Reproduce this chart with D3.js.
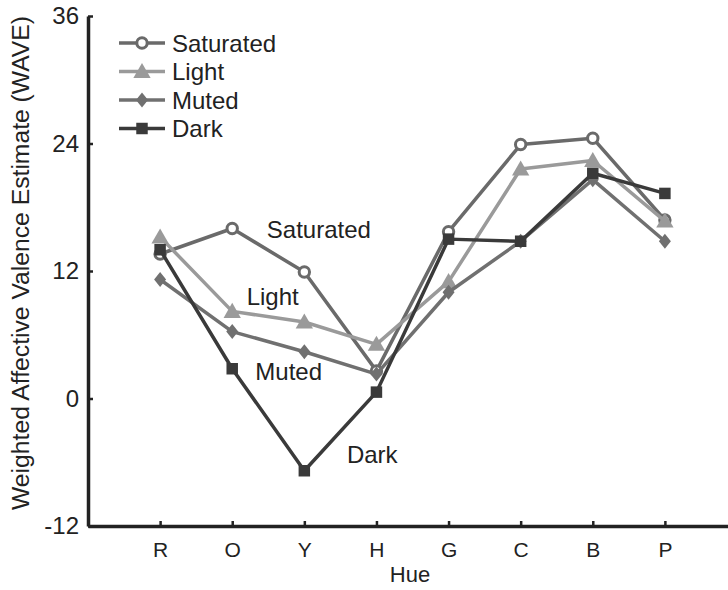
<!DOCTYPE html>
<html>
<head>
  <meta charset="utf-8">
  <script src="https://d3js.org/d3.v7.min.js"></script>
  <style>
    body { margin: 0; background: #fff; }
    text { font-family: "Liberation Sans", Arial, sans-serif; fill: #222; }
  </style>
</head>
<body>
<script>
  "use strict";
  // data
  var hues = ["R", "O", "Y", "H", "G", "C", "B", "P"];
  var saturated = [13.6, 16.0, 11.9, 2.6, 15.7, 23.9, 24.5, 16.8];
  var light     = [15.2, 8.2, 7.2, 5.1, 11.0, 21.6, 22.4, 16.7];
  var muted     = [11.2, 6.3, 4.4, 2.3, 10.0, 14.8, 20.6, 14.8];
  var dark      = [14.0, 2.8, -6.8, 0.6, 15.0, 14.8, 21.2, 19.3];
  var yTicks = [-12, 0, 12, 24, 36];

  var series = [
    { name: "Saturated", values: saturated, color: "#6a6a6a", symbol: "circle",
      label: [2.48, 15.1] },
    { name: "Light", values: light, color: "#9a9a9a", symbol: "triangle",
      label: [2.2, 8.8] },
    { name: "Muted", values: muted, color: "#707070", symbol: "diamond",
      label: [2.32, 1.74] },
    { name: "Dark", values: dark, color: "#3a3a3a", symbol: "square",
      label: [3.59, -6.07] }
  ];

  var W = 728, H = 590;
  var svg = d3.select("body").append("svg")
      .attr("width", W).attr("height", H);

  var x = d3.scaleLinear().domain([0, 9]).range([88, 737]);
  var y = d3.scaleLinear().domain([-12, 36]).range([526, 16]);

  // axes, ticks point inward
  var yAxis = svg.append("g")
      .attr("transform", "translate(" + x(0) + ",0)")
      .call(d3.axisLeft(y).tickValues(yTicks).tickSize(-5).tickSizeOuter(0).tickPadding(9)
        .tickFormat(function(d) { return String(d); }));
  var xAxis = svg.append("g")
      .attr("transform", "translate(0," + y(-12) + ")")
      .call(d3.axisBottom(x).tickValues(d3.range(1, 9)).tickSize(-5).tickSizeOuter(0)
        .tickPadding(16).tickFormat(function(d) { return hues[d - 1]; }));
  [yAxis, xAxis].forEach(function(g) {
    g.select(".domain").attr("stroke", "#222").attr("stroke-width", 3.5);
    g.selectAll(".tick line").attr("stroke", "#222").attr("stroke-width", 2.5);
  });
  yAxis.selectAll("text").style("font-size", "24px").attr("fill", "#222");
  xAxis.selectAll("text").style("font-size", "21px").attr("fill", "#222");

  svg.append("text")
      .attr("transform", "translate(29,263) rotate(-90)")
      .attr("text-anchor", "middle")
      .attr("textLength", 494)
      .attr("lengthAdjust", "spacingAndGlyphs")
      .style("font-size", "23px")
      .text("Weighted Affective Valence Estimate (WAVE)");
  svg.append("text")
      .attr("x", 410).attr("y", 582)
      .attr("text-anchor", "middle")
      .style("font-size", "22px")
      .text("Hue");

  // taller-than-wide diamond
  var diamondTall = {
    draw: function(ctx, size) {
      var h = Math.sqrt(size) * 0.75, w = h * 0.8;
      ctx.moveTo(0, -h); ctx.lineTo(w, 0); ctx.lineTo(0, h); ctx.lineTo(-w, 0);
      ctx.closePath();
    }
  };

  var symbols = {
    circle: d3.symbol().type(d3.symbolCircle).size(85),
    triangle: d3.symbol().type(d3.symbolTriangle).size(130),
    diamond: d3.symbol().type(diamondTall).size(100),
    square: d3.symbol().type(d3.symbolSquare).size(132)
  };

  function drawMarker(g, s, cx, cy) {
    var dy = s.symbol === "triangle" ? 1.5 : 0;
    g.append("path")
      .attr("d", symbols[s.symbol]())
      .attr("transform", "translate(" + cx + "," + (cy + dy) + ")")
      .attr("fill", s.symbol === "circle" ? "#fff" : s.color)
      .attr("stroke", s.color)
      .attr("stroke-width", s.symbol === "circle" ? 3 : 0);
  }

  var line = d3.line()
      .x(function(d, i) { return x(i + 1); })
      .y(function(d) { return y(d); });

  series.forEach(function(s) {
    var g = svg.append("g");
    g.append("path")
      .attr("d", line(s.values))
      .attr("fill", "none")
      .attr("stroke", s.color)
      .attr("stroke-width", 3.5)
      .attr("stroke-linejoin", "round");
    s.values.forEach(function(v, i) { drawMarker(g, s, x(i + 1), y(v)); });
  });

  // inline labels
  series.forEach(function(s) {
    svg.append("text")
      .attr("x", x(s.label[0])).attr("y", y(s.label[1]))
      .style("font-size", "24px")
      .text(s.name);
  });

  // legend
  var legend = svg.append("g");
  series.forEach(function(s, i) {
    var ly = 43 + i * 28.5;
    legend.append("line")
      .attr("x1", 119).attr("x2", 165).attr("y1", ly).attr("y2", ly)
      .attr("stroke", s.color).attr("stroke-width", 3.5);
    drawMarker(legend, s, 142, ly);
    legend.append("text")
      .attr("x", 172).attr("y", ly).attr("dy", "0.36em")
      .style("font-size", "24px")
      .text(s.name);
  });
</script>
</body>
</html>
